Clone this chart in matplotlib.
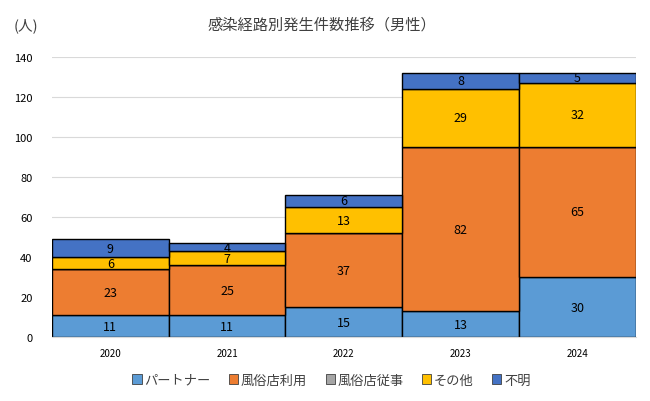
import matplotlib
matplotlib.use("Agg")
import matplotlib.pyplot as plt
from matplotlib.patches import Patch

plt.rcParams['font.family'] = ['Noto Sans CJK JP', 'DejaVu Sans']

years = ["2020", "2021", "2022", "2023", "2024"]
series_names = ["パートナー", "風俗店利用", "風俗店従事", "その他", "不明"]
partner = [11, 11, 15, 13, 30]
fuzoku_use = [23, 25, 37, 82, 65]
fuzoku_work = [0, 0, 0, 0, 0]
other = [6, 7, 13, 29, 32]
unknown = [9, 4, 6, 8, 5]
yticks = [0, 20, 40, 60, 80, 100, 120, 140]

series = [partner, fuzoku_use, fuzoku_work, other, unknown]
colors = ["#5B9BD5", "#ED7D31", "#A5A5A5", "#FFC000", "#4472C4"]

fig = plt.figure(figsize=(6.5, 4.02), dpi=100)
ax = fig.add_axes([0.08, 0.159, 0.898, 0.697])

x = list(range(len(years)))
bottom = [0] * len(years)
for vals, col in zip(series, colors):
    ax.bar(x, vals, width=1.0, bottom=bottom, color=col,
           edgecolor="black", linewidth=1.0, zorder=3)
    for xi, v, b in zip(x, vals, bottom):
        if v > 0:
            ax.text(xi, b + v / 2, str(v), ha="center", va="center",
                    fontsize=9, color="black", zorder=4)
    bottom = [b + v for b, v in zip(bottom, vals)]

ax.set_xlim(-0.5, len(years) - 0.5)
ax.set_ylim(0, 140)
ax.set_yticks(yticks)
ax.set_yticklabels([str(t) for t in yticks], fontsize=8)
ax.set_xticks(x)
ax.set_xticklabels(years, fontsize=7)
ax.tick_params(axis="both", length=0)
ax.tick_params(axis="x", pad=8)
ax.tick_params(axis="y", pad=14)
ax.grid(axis="y", color="#D9D9D9", linewidth=0.8, zorder=0)
for s in ["top", "right", "left"]:
    ax.spines[s].set_visible(False)
ax.spines["bottom"].set_color("#D9D9D9")
ax.spines["bottom"].set_zorder(5)

fig.text(0.495, 0.937, "感染経路別発生件数推移（男性）", ha="center", va="center",
         fontsize=11, color="#404040")
fig.text(0.04, 0.937, "(人)", ha="center", va="center", fontsize=10.5, color="#404040")

handles = [Patch(facecolor=c, edgecolor="#404040", linewidth=0.6) for c in colors]
fig.legend(handles, series_names, loc="center", bbox_to_anchor=(0.51, 0.052),
           ncol=5, frameon=False, fontsize=9.5, handlelength=0.7, handleheight=0.7,
           handletextpad=0.2, columnspacing=1.4, labelcolor="#404040")

fig.savefig("out.png", dpi=100)
